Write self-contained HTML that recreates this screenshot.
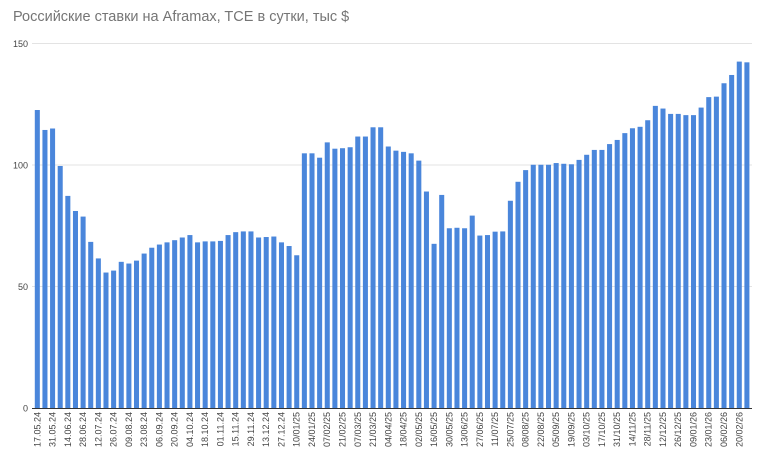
<!DOCTYPE html>
<html><head><meta charset="utf-8"><style>
html,body{margin:0;padding:0;background:#fff;}
svg{display:block;font-family:"Liberation Sans",Arial,sans-serif;}
</style></head><body>
<svg width="758" height="458" viewBox="0 0 758 458" xmlns="http://www.w3.org/2000/svg">
<rect width="758" height="458" fill="#fff"/>
<text x="13" y="21" font-size="14.5" fill="#757575">Российские ставки на Aframax, TCE в сутки, тыс $</text>
<g stroke="#e3e3e3" stroke-width="1">
<line x1="32" y1="43.5" x2="752" y2="43.5"/>
<line x1="32" y1="165" x2="752" y2="165"/>
<line x1="32" y1="286.5" x2="752" y2="286.5"/>
</g>
<g font-size="9" fill="#444" text-anchor="end">
<text x="28" y="47">150</text>
<text x="28" y="168.5">100</text>
<text x="28" y="290">50</text>
<text x="28" y="411.5">0</text>
</g>
<g transform="translate(34.8,408.3) scale(7.63,-2.433)" fill="#4a86db">
<rect x="0" width="0.66" height="122.6"/><rect x="1" width="0.66" height="114.4"/><rect x="2" width="0.66" height="115"/><rect x="3" width="0.66" height="99.6"/><rect x="4" width="0.66" height="87.3"/><rect x="5" width="0.66" height="81.1"/><rect x="6" width="0.66" height="78.8"/><rect x="7" width="0.66" height="68.4"/><rect x="8" width="0.66" height="61.6"/><rect x="9" width="0.66" height="55.8"/>
<rect x="10" width="0.66" height="56.6"/><rect x="11" width="0.66" height="60.2"/><rect x="12" width="0.66" height="59.5"/><rect x="13" width="0.66" height="60.7"/><rect x="14" width="0.66" height="63.6"/><rect x="15" width="0.66" height="66"/><rect x="16" width="0.66" height="67.3"/><rect x="17" width="0.66" height="68.2"/><rect x="18" width="0.66" height="69.1"/><rect x="19" width="0.66" height="70.2"/>
<rect x="20" width="0.66" height="71.2"/><rect x="21" width="0.66" height="68.2"/><rect x="22" width="0.66" height="68.6"/><rect x="23" width="0.66" height="68.6"/><rect x="24" width="0.66" height="68.8"/><rect x="25" width="0.66" height="71.2"/><rect x="26" width="0.66" height="72.4"/><rect x="27" width="0.66" height="72.7"/><rect x="28" width="0.66" height="72.7"/><rect x="29" width="0.66" height="70.2"/>
<rect x="30" width="0.66" height="70.4"/><rect x="31" width="0.66" height="70.6"/><rect x="32" width="0.66" height="68.2"/><rect x="33" width="0.66" height="66.7"/><rect x="34" width="0.66" height="62.9"/><rect x="35" width="0.66" height="104.8"/><rect x="36" width="0.66" height="104.8"/><rect x="37" width="0.66" height="103"/><rect x="38" width="0.66" height="109.3"/><rect x="39" width="0.66" height="106.7"/>
<rect x="40" width="0.66" height="106.9"/><rect x="41" width="0.66" height="107.3"/><rect x="42" width="0.66" height="111.7"/><rect x="43" width="0.66" height="111.7"/><rect x="44" width="0.66" height="115.5"/><rect x="45" width="0.66" height="115.5"/><rect x="46" width="0.66" height="107.6"/><rect x="47" width="0.66" height="105.9"/><rect x="48" width="0.66" height="105.4"/><rect x="49" width="0.66" height="104.8"/>
<rect x="50" width="0.66" height="101.8"/><rect x="51" width="0.66" height="89.1"/><rect x="52" width="0.66" height="67.6"/><rect x="53" width="0.66" height="87.7"/><rect x="54" width="0.66" height="74"/><rect x="55" width="0.66" height="74.2"/><rect x="56" width="0.66" height="74"/><rect x="57" width="0.66" height="79.2"/><rect x="58" width="0.66" height="71"/><rect x="59" width="0.66" height="71.2"/>
<rect x="60" width="0.66" height="72.6"/><rect x="61" width="0.66" height="72.7"/><rect x="62" width="0.66" height="85.3"/><rect x="63" width="0.66" height="93.1"/><rect x="64" width="0.66" height="97.9"/><rect x="65" width="0.66" height="100.1"/><rect x="66" width="0.66" height="100.1"/><rect x="67" width="0.66" height="100.1"/><rect x="68" width="0.66" height="100.8"/><rect x="69" width="0.66" height="100.5"/>
<rect x="70" width="0.66" height="100.3"/><rect x="71" width="0.66" height="102.1"/><rect x="72" width="0.66" height="104.2"/><rect x="73" width="0.66" height="106.2"/><rect x="74" width="0.66" height="106.2"/><rect x="75" width="0.66" height="108.6"/><rect x="76" width="0.66" height="110.3"/><rect x="77" width="0.66" height="113.1"/><rect x="78" width="0.66" height="115.1"/><rect x="79" width="0.66" height="115.7"/>
<rect x="80" width="0.66" height="118.4"/><rect x="81" width="0.66" height="124.3"/><rect x="82" width="0.66" height="123.2"/><rect x="83" width="0.66" height="121"/><rect x="84" width="0.66" height="121"/><rect x="85" width="0.66" height="120.5"/><rect x="86" width="0.66" height="120.5"/><rect x="87" width="0.66" height="123.6"/><rect x="88" width="0.66" height="127.9"/><rect x="89" width="0.66" height="128.1"/>
<rect x="90" width="0.66" height="133.6"/><rect x="91" width="0.66" height="137"/><rect x="92" width="0.66" height="142.5"/><rect x="93" width="0.66" height="142.2"/>
</g>
<line x1="32" y1="408.5" x2="752" y2="408.5" stroke="#333" stroke-width="1"/>
<g font-size="9" fill="#444" text-anchor="end">
<text transform="translate(40.3,412) rotate(-90)">17.05.24</text>
<text transform="translate(55.56,412) rotate(-90)">31.05.24</text>
<text transform="translate(70.82,412) rotate(-90)">14.06.24</text>
<text transform="translate(86.08,412) rotate(-90)">28.06.24</text>
<text transform="translate(101.34,412) rotate(-90)">12.07.24</text>
<text transform="translate(116.6,412) rotate(-90)">26.07.24</text>
<text transform="translate(131.86,412) rotate(-90)">09.08.24</text>
<text transform="translate(147.12,412) rotate(-90)">23.08.24</text>
<text transform="translate(162.38,412) rotate(-90)">06.09.24</text>
<text transform="translate(177.64,412) rotate(-90)">20.09.24</text>
<text transform="translate(192.9,412) rotate(-90)">04.10.24</text>
<text transform="translate(208.16,412) rotate(-90)">18.10.24</text>
<text transform="translate(223.42,412) rotate(-90)">01.11.24</text>
<text transform="translate(238.68,412) rotate(-90)">15.11.24</text>
<text transform="translate(253.94,412) rotate(-90)">29.11.24</text>
<text transform="translate(269.2,412) rotate(-90)">13.12.24</text>
<text transform="translate(284.46,412) rotate(-90)">27.12.24</text>
<text transform="translate(299.72,412) rotate(-90)">10/01/25</text>
<text transform="translate(314.98,412) rotate(-90)">24/01/25</text>
<text transform="translate(330.24,412) rotate(-90)">07/02/25</text>
<text transform="translate(345.5,412) rotate(-90)">21/02/25</text>
<text transform="translate(360.76,412) rotate(-90)">07/03/25</text>
<text transform="translate(376.02,412) rotate(-90)">21/03/25</text>
<text transform="translate(391.28,412) rotate(-90)">04/04/25</text>
<text transform="translate(406.54,412) rotate(-90)">18/04/25</text>
<text transform="translate(421.8,412) rotate(-90)">02/05/25</text>
<text transform="translate(437.06,412) rotate(-90)">16/05/25</text>
<text transform="translate(452.32,412) rotate(-90)">30/05/25</text>
<text transform="translate(467.58,412) rotate(-90)">13/06/25</text>
<text transform="translate(482.84,412) rotate(-90)">27/06/25</text>
<text transform="translate(498.1,412) rotate(-90)">11/07/25</text>
<text transform="translate(513.36,412) rotate(-90)">25/07/25</text>
<text transform="translate(528.62,412) rotate(-90)">08/08/25</text>
<text transform="translate(543.88,412) rotate(-90)">22/08/25</text>
<text transform="translate(559.14,412) rotate(-90)">05/09/25</text>
<text transform="translate(574.4,412) rotate(-90)">19/09/25</text>
<text transform="translate(589.66,412) rotate(-90)">03/10/25</text>
<text transform="translate(604.92,412) rotate(-90)">17/10/25</text>
<text transform="translate(620.18,412) rotate(-90)">31/10/25</text>
<text transform="translate(635.44,412) rotate(-90)">14/11/25</text>
<text transform="translate(650.7,412) rotate(-90)">28/11/25</text>
<text transform="translate(665.96,412) rotate(-90)">12/12/25</text>
<text transform="translate(681.22,412) rotate(-90)">26/12/25</text>
<text transform="translate(696.48,412) rotate(-90)">09/01/26</text>
<text transform="translate(711.74,412) rotate(-90)">23/01/26</text>
<text transform="translate(727,412) rotate(-90)">06/02/26</text>
<text transform="translate(742.26,412) rotate(-90)">20/02/26</text>
</g>
</svg>
</body></html>
